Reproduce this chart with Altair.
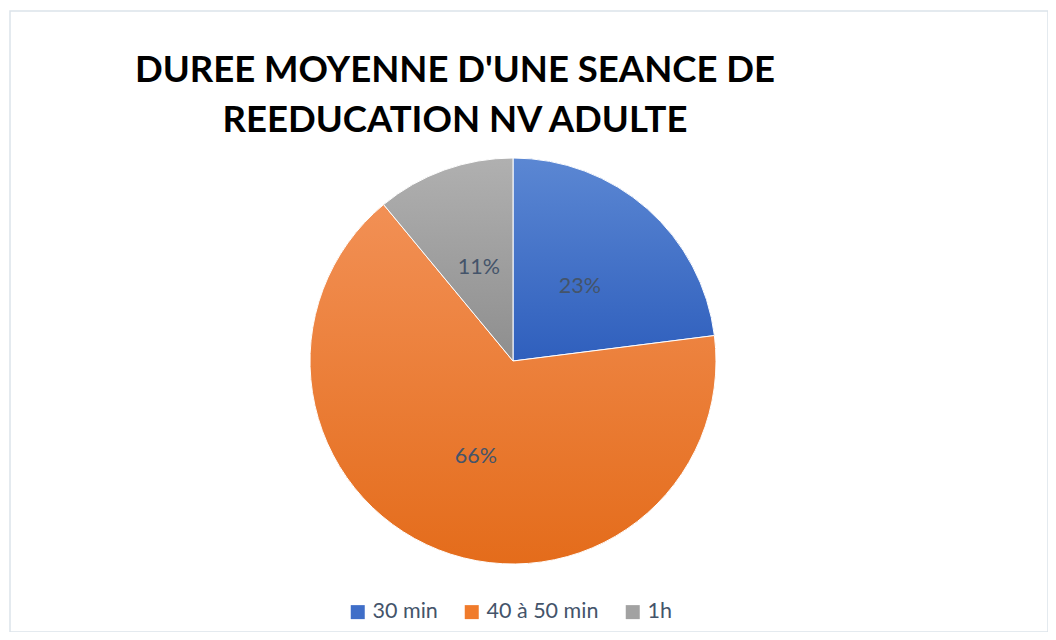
import altair as alt
import pandas as pd

categories = ["30 min", "40 à 50 min", "1h"]
values = [23, 66, 11]
order_idx = [0, 1, 2]
legend_colors = ["#3F6EC8", "#F07B2B", "#A2A2A2"]
grad_tops = ["#5B87D3", "#F29055", "#B0B0B0"]
grad_bottoms = ["#2F5FBD", "#E46C1B", "#8E8E8E"]
title_lines = ["DUREE MOYENNE D'UNE SEANCE DE", "REEDUCATION NV ADULTE"]

df = pd.DataFrame({"category": categories, "value": values, "idx": order_idx})


def grad(top, bottom):
    return {
        "gradient": "linear",
        "x1": 0, "y1": 0, "x2": 0, "y2": 1,
        "stops": [{"offset": 0, "color": top}, {"offset": 1, "color": bottom}],
    }


XOFF, YOFF = -16, 39.5
R = 203

base = alt.Chart(df).encode(
    theta=alt.Theta("value:Q", stack=True),
    order=alt.Order("idx:Q"),
)

legend_layer = base.mark_arc(radius=R, xOffset=XOFF, yOffset=YOFF).encode(
    color=alt.Color(
        "category:N",
        scale=alt.Scale(domain=categories, range=legend_colors),
        sort=categories,
        legend=alt.Legend(
            title=None,
            orient="none",
            direction="horizontal",
            legendX=337,
            legendY=590,
            symbolType="square",
            symbolSize=196,
            symbolStrokeWidth=0,
            labelFont="Lato",
            labelFontSize=21.5,
            labelColor="#44546A",
            labelOffset=4,
            columnPadding=23,
            padding=0,
        ),
    )
)

conds = [
    {"test": f"datum.category === '{categories[i]}'", "value": grad(grad_tops[i], grad_bottoms[i])}
    for i in range(2)
]
grad_layer = base.mark_arc(
    radius=R, xOffset=XOFF, yOffset=YOFF, stroke="white", strokeWidth=1
).encode(
    detail="category:N",
    fill=alt.value(grad(grad_tops[2], grad_bottoms[2]), condition=conds),
)

text_layer = base.mark_text(
    radius=101, xOffset=XOFF, yOffset=YOFF + 2, font="Lato", fontSize=21.5, color="#44546A"
).encode(
    detail="category:N",
    text=alt.Text("label:N"),
).transform_calculate(label="datum.value + '%'")

chart = (
    alt.layer(legend_layer, grad_layer, text_layer)
    .properties(
        width=1038,
        height=621,
        padding={"left": 2, "top": 3, "right": 0, "bottom": 0},
        autosize=alt.AutoSizeParams(type="none"),
        view=alt.ViewBackground(stroke="#DCE3EA", strokeWidth=1.5),
        title=alt.Title(
            text=title_lines,
            font="Lato",
            fontSize=36.5,
            fontWeight="bold",
            color="#000000",
            anchor="middle",
            dx=-74,
            offset=-128,
            baseline="top",
            lineHeight=50,
        ),
    )
    .configure(background="white")
    .configure_view(stroke="#DCE3EA", strokeWidth=1.5)
)

chart.save("out.html", embed_options={"renderer": "svg", "actions": False})
